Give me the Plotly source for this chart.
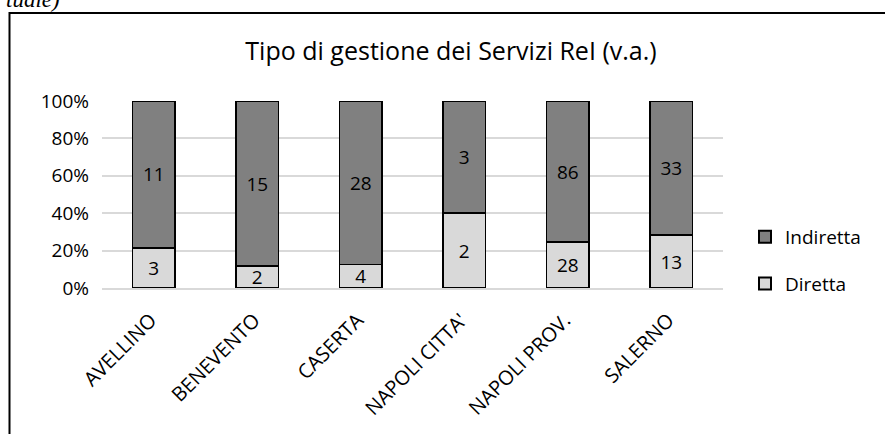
import plotly.graph_objects as go

categories = ["AVELLINO", "BENEVENTO", "CASERTA", "NAPOLI CITTA'", "NAPOLI PROV.", "SALERNO"]
diretta = [3, 2, 4, 2, 28, 13]
indiretta = [11, 15, 28, 3, 86, 33]
y_ticks = [0, 20, 40, 60, 80, 100]
y_tick_labels = ["0%", "20%", "40%", "60%", "80%", "100%"]

W, H = 885, 434
L, R, T, B = 102, 723, 101, 288  # plot area in pixels

def px(x):
    return (x - L) / (R - L)

def py(y):
    return (B - y) / (B - T)

FONT = "Open Sans"

fig = go.Figure()
fig.add_trace(go.Bar(
    name="Diretta", x=categories, y=diretta, text=diretta,
    textposition="inside", insidetextanchor="middle", constraintext="none", textangle=0,
    textfont=dict(family=FONT, size=19, color="black"),
    marker=dict(color="#d9d9d9", line=dict(color="black", width=1.5)),
    legendrank=2, legendgroup="d",
))
fig.add_trace(go.Bar(
    name="Indiretta", x=categories, y=indiretta, text=indiretta,
    textposition="inside", insidetextanchor="middle", constraintext="none", textangle=0,
    textfont=dict(family=FONT, size=19, color="black"),
    marker=dict(color="#808080", line=dict(color="black", width=1.5)),
    legendrank=1, legendgroup="i",
))

fig.update_layout(
    width=W, height=H,
    margin=dict(l=L, r=W - R, t=T, b=H - B, pad=0, autoexpand=False),
    barmode="stack", barnorm="percent", bargap=0.59,
    plot_bgcolor="white", paper_bgcolor="white",
    font=dict(family=FONT, size=19, color="black"),
    title=dict(text="Tipo di gestione dei Servizi ReI (v.a.)", x=451 / W, xanchor="center",
               y=1 - 51 / H, yanchor="middle", font=dict(family=FONT, size=25, color="black")),
    showlegend=True,
    legend=dict(x=px(745), y=py(218), xanchor="left", yanchor="top",
                traceorder="grouped", tracegroupgap=19, itemsizing="constant",
                font=dict(family=FONT, size=19, color="black"),
                bgcolor="rgba(0,0,0,0)"),
    uniformtext=dict(minsize=19, mode="show"),
)
fig.update_yaxes(range=[0, 100], tickvals=y_ticks, ticktext=y_tick_labels, showgrid=True,
                 gridcolor="#d9d9d9", gridwidth=1.5, zeroline=False, showline=False,
                 ticks="", tickfont=dict(family=FONT, size=19), ticklabelstandoff=12,
                 automargin=False)
fig.update_xaxes(tickangle=-45, showline=True, linecolor="#d9d9d9", linewidth=1.5,
                 ticks="", tickfont=dict(family=FONT, size=20), automargin=False,
                 ticklabelstandoff=11, ticklabelshift=-3)

# outer frame
fig.add_shape(type="rect", xref="paper", yref="paper",
              x0=px(9.5), x1=px(900), y0=py(450), y1=py(13),
              line=dict(color="black", width=2), fillcolor="rgba(0,0,0,0)", layer="below")

# cut-off text at top-left
fig.add_annotation(xref="paper", yref="paper", x=px(4), y=py(14), xanchor="left", yanchor="bottom",
                   text="<i>tuale)</i>", showarrow=False,
                   font=dict(family="Liberation Serif", size=23, color="black"))

fig.write_html("out.html", config={"displayModeBar": False},
               post_script="document.body.style.margin='0';")
